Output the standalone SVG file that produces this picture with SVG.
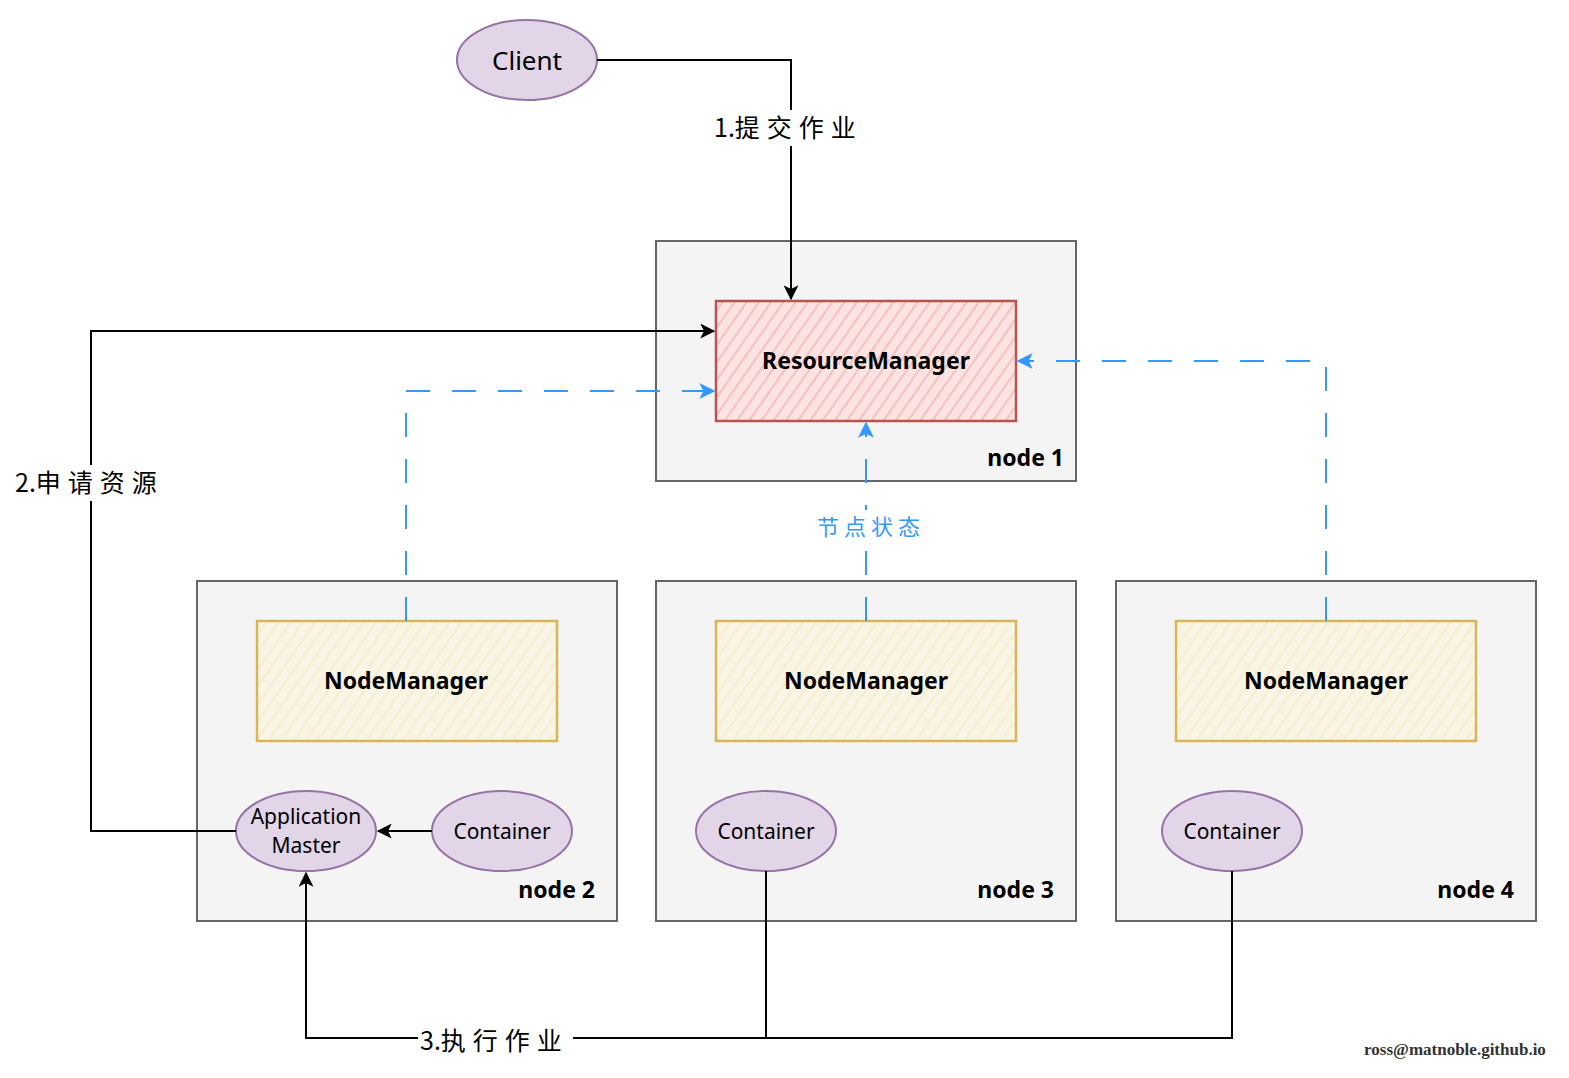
<svg xmlns="http://www.w3.org/2000/svg" width="1569" height="1078" viewBox="0 0 1569 1078">
<defs>
<pattern id="hatchRed" patternUnits="userSpaceOnUse" width="10" height="10" patternTransform="rotate(-55)">
<rect width="10" height="10" fill="#fbe3e2"/>
<line x1="0" y1="5" x2="10" y2="5" stroke="#f4a9a6" stroke-width="1.2"/>
</pattern>
<pattern id="hatchYel" patternUnits="userSpaceOnUse" width="10" height="10" patternTransform="rotate(-55)">
<rect width="10" height="10" fill="#f8f4e6"/>
<line x1="0" y1="5" x2="10" y2="5" stroke="#f8e7b5" stroke-width="1.2"/>
</pattern>
<marker id="arrB" viewBox="0 0 12 12" refX="11" refY="6" markerWidth="15" markerHeight="15" markerUnits="userSpaceOnUse" orient="auto">
<path d="M0,0 L12,6 L0,12 L3,6 Z" fill="#000"/>
</marker>
<marker id="arrBlue" viewBox="0 0 12 12" refX="11" refY="6" markerWidth="16" markerHeight="16" markerUnits="userSpaceOnUse" orient="auto">
<path d="M0,0 L12,6 L0,12 L3,6 Z" fill="#3399ff"/>
</marker>
</defs>
<style>
.host{fill:#f4f4f4;stroke:#666;stroke-width:2}
.ell{fill:#e1d5e7;stroke:#9673a6;stroke-width:2}
.rm{fill:url(#hatchRed);stroke:#b85450;stroke-width:2.5}
.nm{fill:url(#hatchYel);stroke:#d6b656;stroke-width:2.5}
.t{font-family:"Noto Sans","Liberation Sans","Noto Sans CJK SC",sans-serif;fill:#000}
.b{font-weight:bold;font-size:23px}
.e{font-size:21px}
.lbl{font-family:"Noto Sans CJK SC","Noto Sans",sans-serif;font-size:25px;fill:#000}
.sp{letter-spacing:7px}
.blk{fill:none;stroke:#000;stroke-width:2}
.blu{fill:none;stroke:#3399ff;stroke-width:2;stroke-dasharray:24 22}
</style>
<rect width="1569" height="1078" fill="#fff"/>

<g id="node1">
<rect class="host" x="656" y="241" width="420" height="240"/>
<text class="t b" x="1064" y="466" text-anchor="end">node 1</text>
</g>
<g id="node2">
<rect class="host" x="197" y="581" width="420" height="340"/>
<text class="t b" x="595" y="898" text-anchor="end">node 2</text>
</g>
<g id="node3">
<rect class="host" x="656" y="581" width="420" height="340"/>
<text class="t b" x="1054" y="898" text-anchor="end">node 3</text>
</g>
<g id="node4">
<rect class="host" x="1116" y="581" width="420" height="340"/>
<text class="t b" x="1514" y="898" text-anchor="end">node 4</text>
</g>

<g id="client">
<ellipse class="ell" cx="527" cy="60" rx="70" ry="40"/>
<text class="t" x="527" y="70" font-size="26" text-anchor="middle">Client</text>
</g>
<g id="resourcemanager">
<rect class="rm" x="716" y="301" width="300" height="120"/>
<text class="t b" x="866" y="369" text-anchor="middle">ResourceManager</text>
</g>
<g id="nodemanager2">
<rect class="nm" x="257" y="621" width="300" height="120"/>
<text class="t b" x="406" y="689" text-anchor="middle">NodeManager</text>
</g>
<g id="nodemanager3">
<rect class="nm" x="716" y="621" width="300" height="120"/>
<text class="t b" x="866" y="689" text-anchor="middle">NodeManager</text>
</g>
<g id="nodemanager4">
<rect class="nm" x="1176" y="621" width="300" height="120"/>
<text class="t b" x="1326" y="689" text-anchor="middle">NodeManager</text>
</g>
<g id="appmaster">
<ellipse class="ell" cx="306" cy="831" rx="70" ry="40"/>
<text class="t e" x="306" y="824" text-anchor="middle">Application</text>
<text class="t e" x="306" y="853" text-anchor="middle">Master</text>
</g>
<g id="container2">
<ellipse class="ell" cx="502" cy="831" rx="70" ry="40"/>
<text class="t e" x="502" y="839" text-anchor="middle">Container</text>
</g>
<g id="container3">
<ellipse class="ell" cx="766" cy="831" rx="70" ry="40"/>
<text class="t e" x="766" y="839" text-anchor="middle">Container</text>
</g>
<g id="container4">
<ellipse class="ell" cx="1232" cy="831" rx="70" ry="40"/>
<text class="t e" x="1232" y="839" text-anchor="middle">Container</text>
</g>

<g id="connectors">
<path class="blk" d="M597,60 H791 V299" marker-end="url(#arrB)"/>
<path class="blk" d="M236,831 H91 V331 H714" marker-end="url(#arrB)"/>
<path class="blk" d="M432,831 H378" marker-end="url(#arrB)"/>
<path class="blk" d="M766,871 V1038 H306 V873" marker-end="url(#arrB)"/>
<path class="blk" d="M1232,871 V1038 H766"/>
<path class="blu" d="M406,621 V391 H714" marker-end="url(#arrBlue)"/>
<path class="blu" d="M866,621 V423" marker-end="url(#arrBlue)"/>
<path class="blu" d="M1326,621 V361 H1018" marker-end="url(#arrBlue)"/>

<rect x="712" y="110" width="150" height="36" fill="#fff"/>
<text class="lbl" x="714" y="137">1.<tspan class="sp">提交作业</tspan></text>
<rect x="12" y="465" width="158" height="36" fill="#fff"/>
<text class="lbl" x="15" y="492">2.<tspan class="sp">申请资源</tspan></text>
<rect x="418" y="1022" width="155" height="36" fill="#fff"/>
<text class="lbl" x="420" y="1050">3.<tspan class="sp">执行作业</tspan></text>
<rect x="813" y="510" width="112" height="32" fill="#fff"/>
<text class="lbl" x="817" y="535" style="font-size:22px;letter-spacing:5px;fill:#3399ff">节点状态</text>
</g>

<text x="1455" y="1055" font-family="'Liberation Serif',serif" font-size="17" font-weight="bold" fill="#333" text-anchor="middle">ross@matnoble.github.io</text>
</svg>
